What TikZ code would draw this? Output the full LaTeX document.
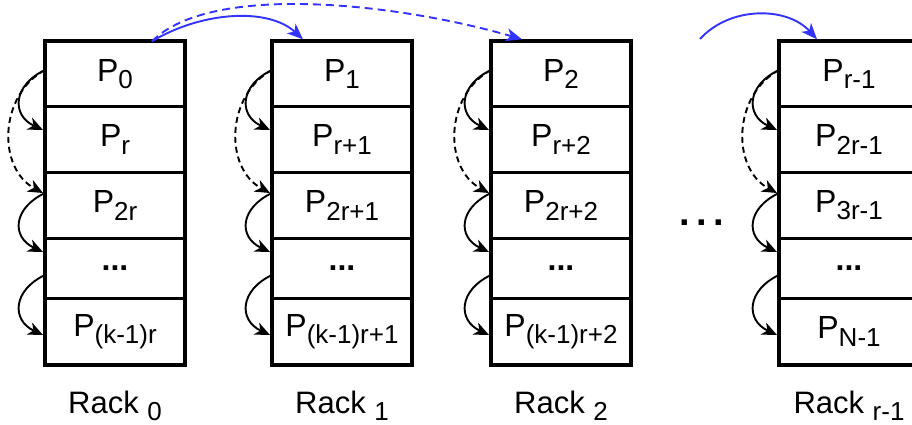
\documentclass[tikz,border=0pt]{standalone}
\usepackage{fontspec}
\setmainfont{Liberation Sans}
\usetikzlibrary{arrows.meta,calc}
\definecolor{arrowblue}{RGB}{51,51,255}
\newcommand{\Ps}[1]{P\raisebox{-7.5pt}{\fontsize{26}{26}\selectfont #1}}
\newcommand{\Rk}[1]{Rack \raisebox{-7pt}{\fontsize{26}{26}\selectfont #1}}
\tikzset{
  cell/.style={draw=black, line width=3pt, minimum width=140pt, inner sep=0pt, outer sep=0pt,
    font=\fontsize{32}{32}\selectfont},
  rackframe/.style={draw=black, line width=4pt},
  racklabel/.style={inner sep=0pt, font=\fontsize{31}{31}\selectfont},
  blk/.style={draw=black, line width=1.9pt, -{Stealth[length=15pt,width=13pt,inset=4.5pt]}},
  blkdash/.style={blk, dash pattern=on 6pt off 4pt},
  bluearr/.style={draw=arrowblue, line width=1.9pt, -{Stealth[length=16pt,width=13pt,inset=4.5pt]}},
  bigdots/.style={inner sep=0pt, font=\fontsize{38}{38}\selectfont\bfseries}
}
\newcommand{\drawrack}[8]{%
  \node[cell, minimum height=65.4pt] (#1a) at (#2,74) {#3};
  \node[cell, minimum height=65.6pt] (#1b) at (#2,139.5) {#4};
  \node[cell, minimum height=66pt] (#1c) at (#2,205.3) {#5};
  \node[cell, minimum height=60pt] (#1d) at (#2,268.3) {#6};
  \node[cell, minimum height=66.4pt] (#1e) at (#2,331.5) {#7};
  \draw[rackframe] (#1a.north west) rectangle (#1e.south east);
  \node[racklabel] (#1l) at (#2,405.5) {#8};
  \coordinate (#1s1) at ($(#1a.west)+(0,-4)$);
  \coordinate (#1s2) at ($(#1c.west)+(0,-12.3)$);
  \coordinate (#1s3) at ($(#1d.west)+(0,6.7)$);
  \draw[blk] (#1s1) .. controls +(-32,15) and +(-32,-15) .. ($(#1b.west)+(-2,-9.5)$);
  \draw[blkdash] (#1s1) .. controls +(-46,25) and +(-46,-25) .. ($(#1c.west)+(-2,-12.3)$);
  \draw[blk] (#1s2) .. controls +(-32,15) and +(-32,-15) .. ($(#1d.west)+(-2,-16.3)$);
  \draw[blk] (#1s3) .. controls +(-32,15) and +(-32,-15) .. ($(#1e.west)+(-2,3.5)$);
}
\begin{document}
\begin{tikzpicture}[x=1pt,y=-1pt]
  \useasboundingbox (0,0) rectangle (912,424);
  \clip (0,0) rectangle (912,424);
  \drawrack{r0}{115}{\Ps{0}}{\Ps{r}}{\Ps{2r}}{\textbf{...}}{\Ps{(k-1)r}}{\Rk{0}}
  \drawrack{r1}{342}{\Ps{1}}{\Ps{r+1}}{\Ps{2r+1}}{\textbf{...}}{\Ps{(k-1)r+1}}{\Rk{1}}
  \drawrack{r2}{561}{\Ps{2}}{\Ps{r+2}}{\Ps{2r+2}}{\textbf{...}}{\Ps{(k-1)r+2}}{\Rk{2}}
  \drawrack{r3}{849}{\Ps{r-1}}{\Ps{2r-1}}{\Ps{3r-1}}{\textbf{...}}{\Ps{N-1}}{\Rk{r-1}}
  \node[bigdots] (dots) at (701.5,223) {.\hspace{6.5pt}.\hspace{6.5pt}.};
  \coordinate (bstart) at (700,39);
  \draw[bluearr] ($(r0a.north)+(37,0)$) .. controls +(50,-30) and +(-35,-32) .. ($(r1a.north)+(-39,-2)$);
  \draw[bluearr, dash pattern=on 8pt off 5pt] ($(r0a.north)+(37,0)$) .. controls +(60,-60) and +(-120,-35) .. ($(r2a.north)+(-39,-2)$);
  \draw[bluearr] (bstart) .. controls +(30,-33) and +(-30,-33) .. ($(r3a.north)+(-32,-2)$);
\end{tikzpicture}
\end{document}
